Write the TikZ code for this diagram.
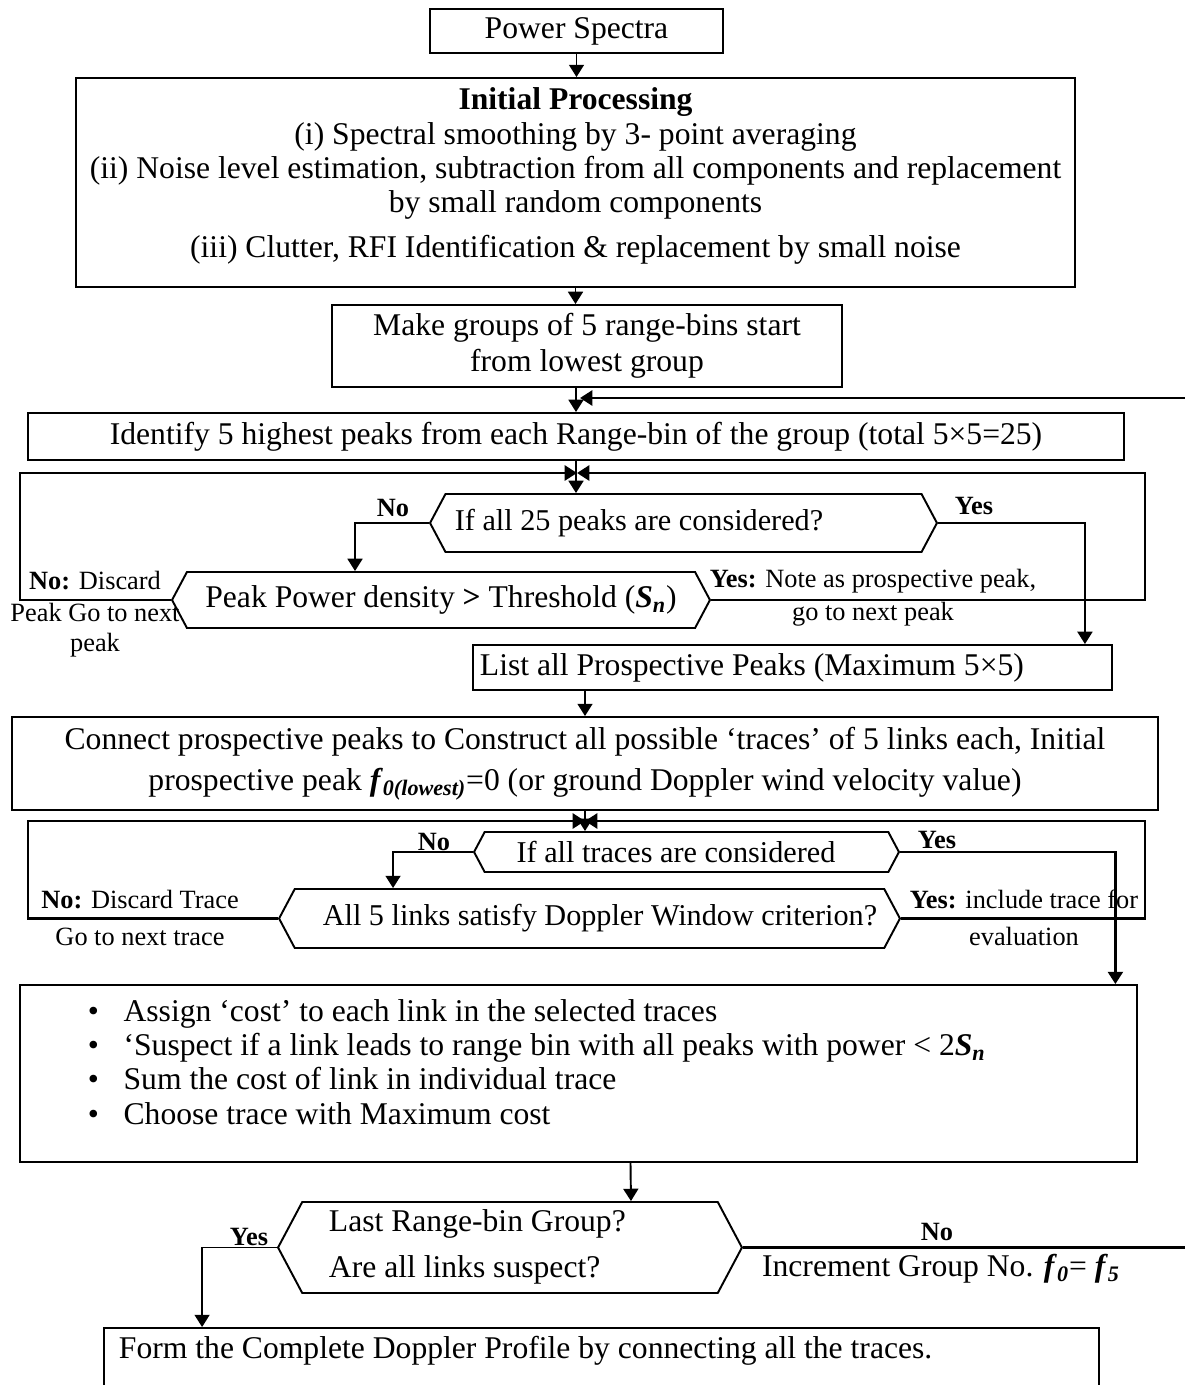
\documentclass[tikz,border=0pt]{standalone}
\usepackage{fontspec}
\setmainfont{Liberation Serif}
\usetikzlibrary{arrows.meta,shapes.symbols}
\newcommand{\flowfont}{\fontsize{18}{19.5}\selectfont}
\newcommand{\hexfont}{\fontsize{17.2}{19.5}\selectfont}
\newcommand{\notefont}{\fontsize{15}{17}\selectfont}
\newcommand{\bfit}[1]{\textbf{\textit{#1}}}
\newcommand{\bigdot}{\textbullet\hspace{14pt}}

\begin{document}
\begin{tikzpicture}[x=0.02cm, y=-0.02cm, line width=1.1pt, >={Triangle[length=7pt,width=8.5pt]}]
	\tikzstyle{process} = [rectangle, draw, inner sep=0pt, font=\flowfont, align=center]
	\tikzstyle{decision} = [signal, signal to=west and east, signal pointer angle=124, draw, inner sep=0pt, font=\flowfont]
	\tikzstyle{txt} = [font=\flowfont, inner sep=0pt]
	\tikzstyle{hextxt} = [font=\hexfont, inner sep=0pt]
	\tikzstyle{note} = [font=\notefont, inner sep=0pt, align=center]
	\tikzstyle{yesno} = [font=\notefont\bfseries, inner sep=0pt]
	\tikzstyle{backline} = [->, line width=1.6pt]

	\useasboundingbox (0,0) rectangle (1184,1385);

	% Input and preprocessing
	\node (spectra) [process, minimum width=5.86cm, minimum height=0.88cm] at (576.5,31) {Power Spectra};
	\node (initial) [process, minimum width=19.98cm, minimum height=4.18cm] at (575.5,182.5) {};
	\node (initialtext) [txt, align=center] at (575.5,176) {\textbf{Initial Processing}\\
		(i) Spectral smoothing by 3- point averaging\\
		(ii) Noise level estimation, subtraction from all components and replacement\\
		by small random components\\[6pt]
		(iii) Clutter, RFI Identification \& replacement by small noise};
	\node (groups) [process, minimum width=10.2cm, minimum height=1.64cm] at (587,346) {Make groups of 5 range-bins start\\[1pt] from lowest group};
	\node (identify) [process, minimum width=21.92cm, minimum height=0.94cm] at (576,436.5) {Identify 5 highest peaks from each Range-bin of the group (total 5×5=25)};

	% Peak selection
	\node (allpeaks) [decision, minimum width=10.14cm, minimum height=1.16cm] at (683.5,523) {};
	\node (allpeakstext) [hextxt] at (639,523) {If all 25 peaks are considered?};
	\node (threshold) [decision, minimum width=10.76cm, minimum height=1.12cm] at (441,600) {Peak Power density \textbf{>} Threshold (\bfit{S}\textsubscript{\bfit{n}})};
	\node (list) [process, minimum width=12.78cm, minimum height=0.9cm] at (792.5,667.5) {};
	\node (listtext) [txt, anchor=west] at (479,668) {List all Prospective Peaks (Maximum 5×5)};

	% Trace construction
	\node (connect) [process, minimum width=22.92cm, minimum height=1.86cm] at (585,763.5) {Connect prospective peaks to Construct all possible ‘traces’ of 5 links each, Initial\\[4pt]
		prospective peak \bfit{f}\textsubscript{\bfit{0(lowest)}}=0 (or ground Doppler wind velocity value)};
	\node (alltraces) [decision, minimum width=8.5cm, minimum height=0.8cm] at (686.5,852) {};
	\node (alltracestext) [hextxt] at (676,852) {If all traces are considered};
	\node (doppler) [decision, minimum width=12.42cm, minimum height=1.18cm] at (589.5,918.5) {};
	\node (dopplertext) [hextxt] at (600,918) {All 5 links satisfy Doppler Window criterion?};

	% Trace evaluation
	\node (bullets) [process, minimum width=22.34cm, minimum height=3.54cm] at (578.5,1073.5) {};
	\node (bullettext) [txt, anchor=west, align=left] at (87,1062) {\bigdot Assign ‘cost’ to each link in the selected traces\\
		\bigdot ‘Suspect if a link leads to range bin with all peaks with power < 2\bfit{S}\textsubscript{\bfit{n}}\\
		\bigdot Sum the cost of link in individual trace\\
		\bigdot Choose trace with Maximum cost};
	\node (lastgroup) [decision, minimum width=9.28cm, minimum height=1.82cm] at (510,1247.5) {};
	\node (lastgrouptext) [txt, anchor=west, align=left] at (328,1247) {Last Range-bin Group?\\[6.5pt] Are all links suspect?};
	\node (profile) [process, minimum width=19.9cm, minimum height=1.84cm] at (601.5,1374) {};
	\node (profiletext) [txt, anchor=west] at (118,1351) {Form the Complete Doppler Profile by connecting all the traces.};

	% Branch labels
	\node (nopeaks) [yesno] at (393,508) {No};
	\node (yespeaks) [yesno] at (974,506) {Yes};
	\node (discardpeak) [note] at (95,614) {\textbf{No:} Discard\\[1pt] Peak Go to next\\ peak};
	\node (notepeak) [note] at (873,598) {\textbf{Yes:} Note as prospective peak,\\[2pt] go to next peak};
	\node (notraces) [yesno] at (434,842) {No};
	\node (yestraces) [yesno] at (937,840) {Yes};
	\node (discardtrace) [note] at (140,918) {\textbf{No:} Discard Trace\\[4pt] Go to next trace};
	\node (includetrace) [note] at (1024,918) {\textbf{Yes:} include trace for\\[4pt] evaluation};
	\node (yesgroup) [yesno] at (249,1237) {Yes};
	\node (nogroup) [yesno] at (937,1232) {No};
	\node (increment) [txt] at (941,1269) {Increment Group No. \bfit{f}\textsubscript{\bfit{0}}= \bfit{f}\textsubscript{\bfit{5}}};

	% Main column
	\draw[->] (spectra.south) -- (spectra.south |- initial.north);
	\draw[->] (initial.south) -- (initial.south |- groups.north);
	\draw[->] (groups.south -| identify.north) -- (identify.north);
	\draw[->] (identify.south) -- (identify.south |- allpeaks.north);

	% Peak loop
	\coordinate (peakjoin) at (577,473);
	\draw[backline] (threshold.west) -- ++(-151,0) |- (peakjoin);
	\draw[backline] (threshold.east) -- ++(434,0) |- (peakjoin);
	\draw[->] (allpeaks.west) -| ([xshift=-1.72cm]threshold.north);
	\draw[->] (allpeaks.east) -| ([xshift=5.85cm]list.north);
	\draw[->] (list.south -| connect.north) -- (connect.north);

	% Trace loop
	\coordinate (tracejoin) at (585,821);
	\draw[->] (connect.south) -- (connect.south |- alltraces.north);
	\draw[backline] (doppler.west) -- ++(-250,0) |- (tracejoin);
	\draw[backline] (doppler.east) -- ++(244,0) |- (tracejoin);
	\draw[->] (alltraces.west) -| ([xshift=-3.93cm]doppler.north);
	\draw[backline] (alltraces.east) -| ([xshift=10.74cm]bullets.north);

	% Next group or finish
	\coordinate (groupjoin) at (580,398);
	\draw[->] ([xshift=1.04cm]bullets.south) -- ([xshift=2.42cm]lastgroup.north);
	\draw[->] (lastgroup.west) -| ([xshift=-7.99cm]profile.north);
	\draw[backline] (lastgroup.east) -- ++(453,0) |- (groupjoin);
\end{tikzpicture}
\end{document}
